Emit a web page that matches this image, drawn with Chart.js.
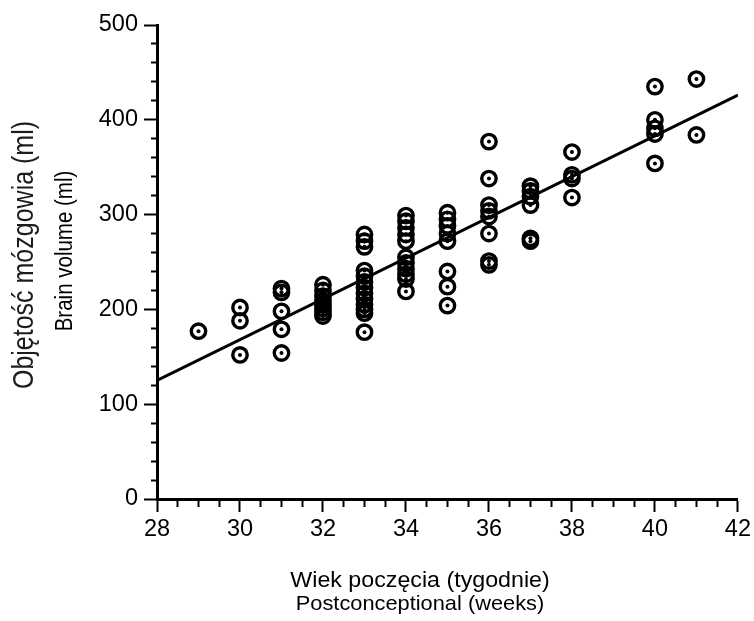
<!DOCTYPE html>
<html>
<head>
<meta charset="utf-8">
<script src="https://cdn.jsdelivr.net/npm/chart.js@4.4.1/dist/chart.umd.min.js"></script>
<style>
    html, body { margin: 0; padding: 0; background: #fff; }
    #wrap { width: 754px; height: 621px; }
</style>
</head>
<body>
<div id="wrap"><canvas id="chart" width="754" height="621"></canvas></div>
<script>
// Brain volume vs postconceptional age - scatter with regression line

const weekGroups = [29, 30, 31, 32, 33, 34, 35, 36, 37, 38, 40, 41];
const volumesByWeek = [
    [177],
    [202, 188, 152],
    [222, 218, 198, 179, 154],
    [226, 220, 214, 209, 205, 201, 197, 193],
    [279, 272, 266, 241, 235, 229, 223, 217, 211, 205, 200, 196, 176],
    [299, 293, 286, 279, 272, 255, 249, 243, 237, 232, 219],
    [302, 295, 288, 280, 272, 240, 224, 204],
    [377, 338, 310, 304, 298, 280, 251, 247],
    [330, 325, 319, 310, 275, 272],
    [366, 342, 338, 318],
    [435, 400, 391, 385, 354],
    [443, 384]
];

// regression line end points
const fitWeeks = [28, 42];
const fitVolumes = [125, 426];

const xTicks = { min: 28, max: 42, step: 0.5, labelEvery: 2 };
const yTicks = { min: 0, max: 500, step: 20, labelEvery: 100 };

const yTitles = ['Objętość mózgowia (ml)', 'Brain volume (ml)'];
const xTitles = ['Wiek poczęcia (tygodnie)', 'Postconceptional (weeks)'];

const FONT = '"Liberation Sans", Arial, Helvetica, sans-serif';

const points = [];
weekGroups.forEach((w, i) => {
    volumesByWeek[i].forEach(v => points.push({ x: w, y: v }));
});
const fitLine = fitWeeks.map((w, i) => ({ x: w, y: fitVolumes[i] }));

// the scanned original is a bit wider than tall, so text is stretched a little
function drawText(ctx, text, x, y, size, color, rotate) {
    ctx.save();
    ctx.translate(x, y);
    if (rotate) {
        ctx.rotate(-Math.PI / 2);
        ctx.scale(1, 1.15);
    } else {
        ctx.scale(1.08, 1);
    }
    ctx.fillStyle = color;
    ctx.textAlign = 'center';
    ctx.textBaseline = 'middle';
    ctx.font = size + 'px ' + FONT;
    ctx.fillText(text, 0, 0);
    ctx.restore();
}

const axisTitles = {
    id: 'axisTitles',
    afterDraw(chart) {
        const ctx = chart.ctx;
        drawText(ctx, xTitles[0], 420, 581, 21.5, '#000', false);
        drawText(ctx, xTitles[1], 420, 604, 20.2, '#000', false);
        drawText(ctx, yTitles[0], 25, 255, 25, '#1c1c1c', true);
        drawText(ctx, yTitles[1], 65, 251, 20.5, '#000', true);
    }
};

const ctx = document.getElementById('chart').getContext('2d');
new Chart(ctx, {
    type: 'scatter',
    data: {
        datasets: [
            {
                label: 'fit',
                data: fitLine,
                showLine: true,
                borderColor: '#000',
                borderWidth: 3,
                pointRadius: 0
            },
            {
                label: 'centres',
                data: points,
                pointRadius: 2,
                pointBorderWidth: 0,
                pointBackgroundColor: '#000'
            },
            {
                label: 'rings',
                data: points,
                pointRadius: 7.2,
                pointBorderWidth: 3.4,
                pointBorderColor: '#000',
                pointBackgroundColor: 'rgba(0,0,0,0)'
            }
        ]
    },
    options: {
        responsive: false,
        animation: false,
        layout: { padding: { top: 25, right: 14, left: 0, bottom: 0 } },
        plugins: {
            legend: { display: false },
            tooltip: { enabled: false }
        },
        scales: {
            x: {
                type: 'linear',
                min: xTicks.min,
                max: xTicks.max,
                afterFit(scale) { scale.height = 122; },
                border: { display: true, color: '#000', width: 3 },
                grid: {
                    drawOnChartArea: false,
                    tickLength: 13,
                    tickWidth: 2,
                    tickColor: '#000',
                    tickBorderDash: c => (c.tick && c.tick.value % xTicks.labelEvery === 0) ? [] : [6, 30]
                },
                ticks: {
                    stepSize: xTicks.step,
                    autoSkip: false,
                    maxRotation: 0,
                    padding: 3,
                    color: '#000',
                    font: { family: FONT, size: 23.5 },
                    callback: v => (v % xTicks.labelEvery === 0 ? v : '')
                }
            },
            y: {
                type: 'linear',
                min: yTicks.min,
                max: yTicks.max,
                afterFit(scale) { scale.width = 157; },
                border: { display: true, color: '#000', width: 3 },
                grid: {
                    drawOnChartArea: false,
                    tickLength: 13,
                    tickWidth: 2,
                    tickColor: '#000',
                    tickBorderDash: c => (c.tick && c.tick.value % yTicks.labelEvery === 0) ? [] : [0, 7, 30]
                },
                ticks: {
                    stepSize: yTicks.step,
                    autoSkip: false,
                    padding: 6,
                    color: '#000',
                    font: { family: FONT, size: 23.5 },
                    callback: v => (v % yTicks.labelEvery === 0 ? v : '')
                }
            }
        }
    },
    plugins: [axisTitles]
});
</script>
</body>
</html>
